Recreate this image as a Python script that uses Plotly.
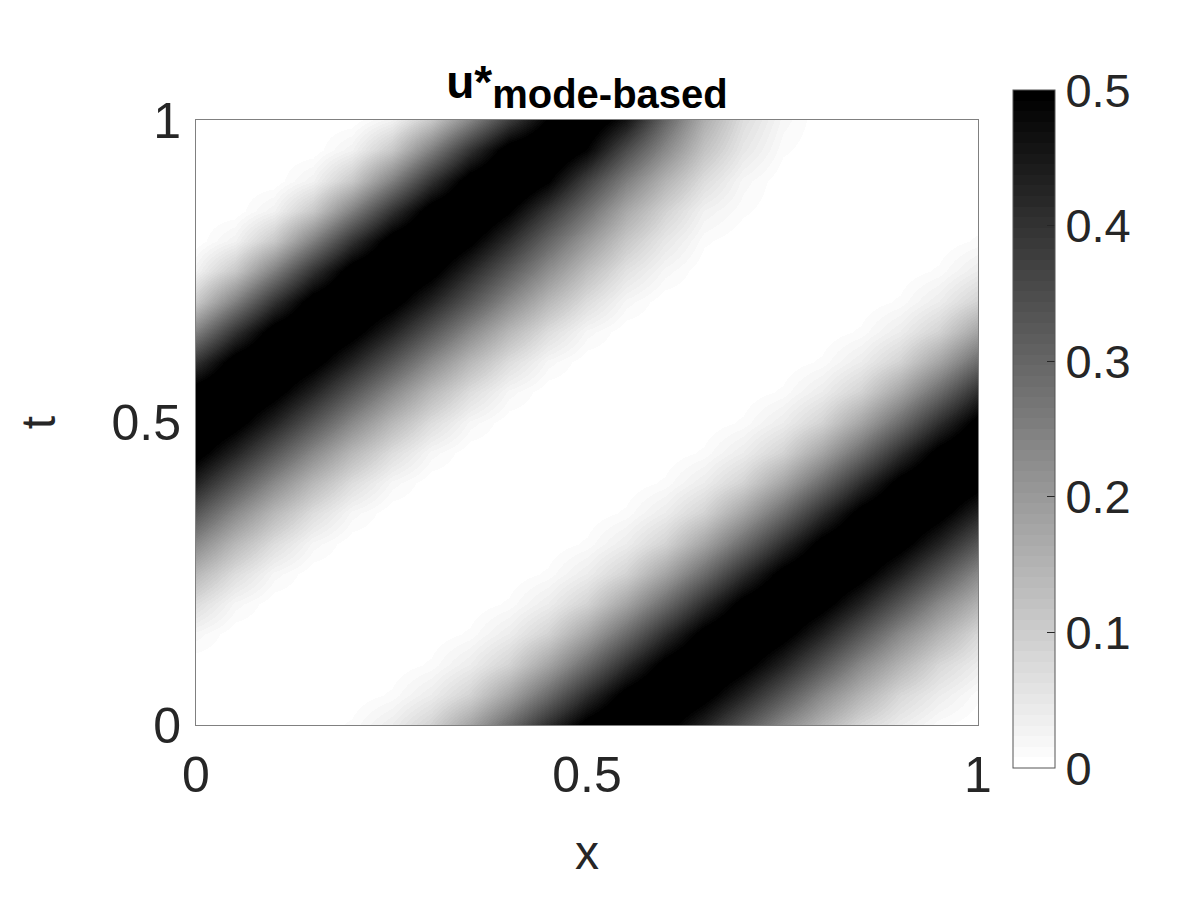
import plotly.graph_objects as go

# grid positions (x across, t up)
x_vals = [0.00, 0.05, 0.10, 0.15, 0.20, 0.25, 0.30, 0.35, 0.40, 0.45, 0.50,
          0.55, 0.60, 0.65, 0.70, 0.75, 0.80, 0.85, 0.90, 0.95, 1.00]
t_vals = [0.00, 0.05, 0.10, 0.15, 0.20, 0.25, 0.30, 0.35, 0.40, 0.45, 0.50,
          0.55, 0.60, 0.65, 0.70, 0.75, 0.80, 0.85, 0.90, 0.95, 1.00]

# u* values, one list per t row (bottom to top)
u_t000 = [0, 0, 0, 0, .01, .04, .09, .18, .29, .41, .52, .58, .52, .43, .33, .23, .15, .08, .04, .01, 0]
u_t005 = [0, 0, 0, 0, 0, .01, .04, .09, .18, .29, .41, .52, .58, .52, .43, .33, .23, .15, .08, .04, .01]
u_t010 = [0, 0, 0, 0, 0, 0, .01, .04, .09, .18, .29, .41, .52, .58, .52, .43, .33, .23, .15, .08, .04]
u_t015 = [.02, 0, 0, 0, 0, 0, 0, .01, .04, .09, .18, .29, .41, .52, .58, .52, .43, .33, .23, .15, .08]
u_t020 = [.07, .02, 0, 0, 0, 0, 0, 0, .01, .04, .09, .18, .29, .41, .52, .58, .52, .43, .33, .23, .15]
u_t025 = [.14, .07, .02, 0, 0, 0, 0, 0, 0, .01, .04, .09, .18, .29, .41, .52, .58, .52, .43, .33, .23]
u_t030 = [.23, .14, .07, .02, 0, 0, 0, 0, 0, 0, .01, .04, .09, .18, .29, .41, .52, .58, .52, .43, .33]
u_t035 = [.33, .23, .14, .07, .02, 0, 0, 0, 0, 0, 0, .01, .04, .09, .18, .29, .41, .52, .58, .52, .43]
u_t040 = [.43, .33, .23, .14, .07, .02, 0, 0, 0, 0, 0, 0, .01, .04, .09, .18, .29, .41, .52, .58, .52]
u_t045 = [.52, .43, .33, .23, .14, .07, .02, 0, 0, 0, 0, 0, 0, .01, .04, .09, .18, .29, .41, .52, .58]
u_t050 = [.58, .52, .43, .33, .23, .14, .07, .02, 0, 0, 0, 0, 0, 0, .01, .04, .09, .18, .29, .41, .52]
u_t055 = [.53, .58, .52, .43, .33, .23, .14, .07, .02, 0, 0, 0, 0, 0, 0, .01, .04, .09, .18, .29, .41]
u_t060 = [.40, .53, .58, .52, .43, .33, .23, .14, .07, .02, 0, 0, 0, 0, 0, 0, .01, .04, .09, .18, .29]
u_t065 = [.25, .40, .53, .58, .52, .43, .33, .23, .14, .07, .02, 0, 0, 0, 0, 0, 0, .01, .04, .09, .18]
u_t070 = [.11, .25, .40, .53, .58, .52, .43, .33, .23, .14, .07, .02, 0, 0, 0, 0, 0, 0, .01, .04, .09]
u_t075 = [.03, .11, .25, .40, .53, .58, .52, .42, .32, .22, .13, .06, .02, 0, 0, 0, 0, 0, 0, .01, .04]
u_t080 = [0, .03, .11, .25, .40, .53, .58, .51, .41, .30, .20, .11, .05, .01, 0, 0, 0, 0, 0, 0, .01]
u_t085 = [0, 0, .03, .11, .25, .40, .53, .58, .50, .39, .28, .17, .09, .03, .01, 0, 0, 0, 0, 0, 0]
u_t090 = [0, 0, 0, .03, .11, .25, .40, .53, .58, .50, .37, .25, .15, .07, .02, 0, 0, 0, 0, 0, 0]
u_t095 = [0, 0, 0, 0, .03, .11, .25, .40, .53, .57, .49, .35, .23, .12, .05, .01, 0, 0, 0, 0, 0]
u_t100 = [0, 0, 0, 0, 0, .03, .11, .24, .38, .50, .55, .46, .30, .16, .07, .02, 0, 0, 0, 0, 0]

z_rows = [u_t000, u_t005, u_t010, u_t015, u_t020, u_t025, u_t030, u_t035, u_t040, u_t045, u_t050,
          u_t055, u_t060, u_t065, u_t070, u_t075, u_t080, u_t085, u_t090, u_t095, u_t100]

tick_vals = [0, 0.5, 1]
tick_text = ["0", "0.5", "1"]
cbar_vals = [0, 0.1, 0.2, 0.3, 0.4, 0.5]
cbar_text = ["0", "0.1", "0.2", "0.3", "0.4", "0.5"]

# reversed gray colormap with 64 levels (white -> black)
n_levels = 64
colorscale = []
for i in range(n_levels):
    g = round(255 * (1 - i / (n_levels - 1)))
    c = f"rgb({g},{g},{g})"
    colorscale.append([i / n_levels, c])
    colorscale.append([(i + 1) / n_levels, c])

FONT = "Liberation Sans, Arial, Helvetica, sans-serif"
TXT = "#262626"

fig = go.Figure(
    go.Heatmap(
        x=x_vals,
        y=t_vals,
        z=z_rows,
        zmin=0,
        zmax=0.5,
        zsmooth="best",
        colorscale=colorscale,
        colorbar=dict(
            thickness=42,
            lenmode="pixels",
            len=678,
            x=1.0448,
            xanchor="left",
            xref="paper",
            y=0.489,
            yanchor="middle",
            outlinecolor="#555555",
            outlinewidth=1,
            tickvals=cbar_vals,
            ticktext=cbar_text,
            ticks="inside",
            ticklen=8,
            tickcolor=TXT,
            tickfont=dict(family=FONT, size=47, color=TXT),
            xpad=0,
            ypad=0,
        ),
    )
)

fig.update_layout(
    width=1200,
    height=900,
    paper_bgcolor="white",
    plot_bgcolor="white",
    margin=dict(l=188, r=230, t=112, b=183),
    title=dict(
        text="<b>u*<sub><span style='font-size:40px'>mode-based</span></sub></b>",
        x=0.5,
        xref="paper",
        xanchor="center",
        y=0.918,
        yanchor="middle",
        font=dict(family=FONT, size=46, color="black"),
    ),
    font=dict(family=FONT, color=TXT),
)

fig.update_xaxes(
    range=[0, 1],
    tickvals=tick_vals,
    ticktext=tick_text,
    tickfont=dict(size=50, color=TXT),
    ticks="",
    ticklabelstandoff=6,
    showgrid=False,
    zeroline=False,
    showline=True,
    linecolor="#808080",
    linewidth=1,
    mirror=True,
    automargin=False,
    title=dict(text="x", font=dict(size=48, color=TXT), standoff=33),
)
fig.update_yaxes(
    range=[0, 1],
    tickvals=tick_vals,
    ticktext=tick_text,
    tickfont=dict(size=50, color=TXT),
    ticks="",
    ticklabelstandoff=4,
    showgrid=False,
    zeroline=False,
    showline=True,
    linecolor="#808080",
    linewidth=1,
    mirror=True,
    automargin=False,
    title=dict(text="t", font=dict(size=48, color=TXT), standoff=40),
)

fig.write_html("out.html")
